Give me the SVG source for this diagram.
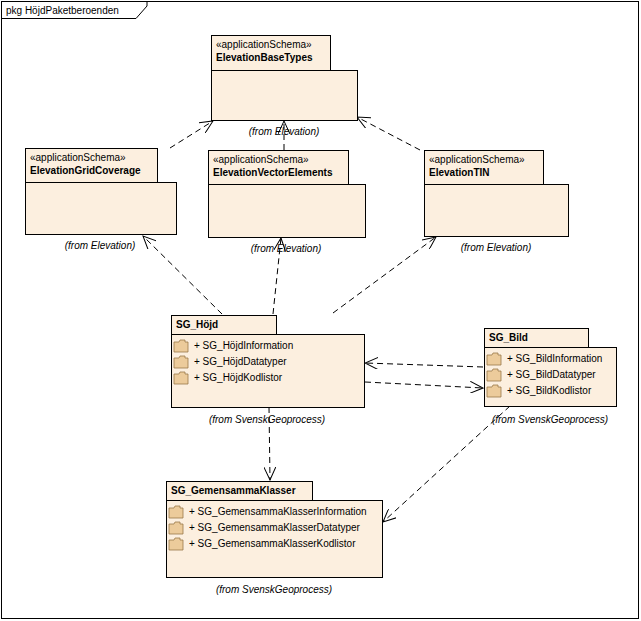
<svg xmlns="http://www.w3.org/2000/svg" width="641" height="621" viewBox="0 0 641 621">
<style>
text{font-family:"Liberation Sans",Arial,sans-serif;font-size:10px;fill:#000}
.b{font-weight:bold}
.i{font-style:italic}
.p{fill:#fcefdf;stroke:#000;stroke-width:1}
.c{fill:none;stroke:#000;stroke-width:1;stroke-dasharray:6,4}
.f{fill:#eccb9b;stroke:#9a7a4a;stroke-width:0.8}
</style>
<defs>
<marker id="a" markerWidth="14" markerHeight="12" refX="13" refY="6" orient="auto" markerUnits="userSpaceOnUse">
<path d="M0,0 L13,6 L0,12" fill="none" stroke="#000"/>
</marker>
<g id="fd"><path class="f" d="M0,2 h5 l1,-2 h5 v2 h3 v10 h-14z"/></g>
</defs>
<rect x="0" y="0" width="641" height="621" fill="#fff"/>
<g id="frame">
<rect x="1.5" y="1.5" width="637" height="617" fill="none" stroke="#000"/>
<path d="M1.5,18.5 H136 L147,6 V1.5" fill="none" stroke="#000"/>
<text x="6" y="14">pkg HöjdPaketberoenden</text>
</g>
<g id="connectors">
<line class="c" x1="170" y1="148" x2="213" y2="121" marker-end="url(#a)"/>
<line class="c" x1="284" y1="150" x2="284" y2="121" marker-end="url(#a)"/>
<line class="c" x1="420" y1="150" x2="357" y2="117" marker-end="url(#a)"/>
<line class="c" x1="222" y1="314" x2="143" y2="236" marker-end="url(#a)"/>
<line class="c" x1="273" y1="314" x2="281" y2="238" marker-end="url(#a)"/>
<line class="c" x1="333" y1="313" x2="436" y2="237" marker-end="url(#a)"/>
<line class="c" x1="483" y1="367" x2="365" y2="363" marker-end="url(#a)"/>
<line class="c" x1="365" y1="382" x2="483" y2="388" marker-end="url(#a)"/>
<line class="c" x1="269" y1="407" x2="270" y2="480" marker-end="url(#a)"/>
<line class="c" x1="510" y1="406" x2="383" y2="522" marker-end="url(#a)"/>
</g>
<g id="ElevationBaseTypes">
<rect class="p" x="211.5" y="35.5" width="119" height="35"/>
<rect class="p" x="211.5" y="70.5" width="146" height="50"/>
<text x="216" y="48">«applicationSchema»</text>
<text class="b" x="216" y="61">ElevationBaseTypes</text>
<text class="i" x="284" y="135" text-anchor="middle">(from Elevation)</text>
</g>
<g id="ElevationGridCoverage">
<rect class="p" x="25.5" y="148.5" width="132" height="34"/>
<rect class="p" x="25.5" y="182.5" width="151" height="52"/>
<text x="30" y="161">«applicationSchema»</text>
<text class="b" x="30" y="174">ElevationGridCoverage</text>
<text class="i" x="100" y="249" text-anchor="middle">(from Elevation)</text>
</g>
<g id="ElevationVectorElements">
<rect class="p" x="208.5" y="150.5" width="140" height="34"/>
<rect class="p" x="208.5" y="184.5" width="157" height="53"/>
<text x="213" y="163">«applicationSchema»</text>
<text class="b" x="213" y="176">ElevationVectorElements</text>
<text class="i" x="286" y="252" text-anchor="middle">(from Elevation)</text>
</g>
<g id="ElevationTIN">
<rect class="p" x="424.5" y="150.5" width="119" height="34"/>
<rect class="p" x="424.5" y="184.5" width="144" height="52"/>
<text x="429" y="163">«applicationSchema»</text>
<text class="b" x="429" y="176">ElevationTIN</text>
<text class="i" x="496" y="251" text-anchor="middle">(from Elevation)</text>
</g>
<g id="SG_Hojd">
<rect class="p" x="171.5" y="315.5" width="105" height="19"/>
<rect class="p" x="171.5" y="334.5" width="193" height="73"/>
<text class="b" x="176" y="328">SG_Höjd</text>
<use href="#fd" x="174" y="340"/><text x="194" y="349">+ SG_HöjdInformation</text>
<use href="#fd" x="174" y="356"/><text x="194" y="365">+ SG_HöjdDatatyper</text>
<use href="#fd" x="174" y="372"/><text x="194" y="381">+ SG_HöjdKodlistor</text>
<text class="i" x="267" y="423" text-anchor="middle">(from SvenskGeoprocess)</text>
</g>
<g id="SG_Bild">
<rect class="p" x="484.5" y="328.5" width="104" height="19"/>
<rect class="p" x="484.5" y="347.5" width="132" height="59"/>
<text class="b" x="489" y="341">SG_Bild</text>
<use href="#fd" x="487" y="353"/><text x="507" y="362">+ SG_BildInformation</text>
<use href="#fd" x="487" y="369"/><text x="507" y="378">+ SG_BildDatatyper</text>
<use href="#fd" x="487" y="385"/><text x="507" y="394">+ SG_BildKodlistor</text>
<text class="i" x="550" y="423" text-anchor="middle">(from SvenskGeoprocess)</text>
</g>
<g id="SG_GemensammaKlasser">
<rect class="p" x="166.5" y="481.5" width="146" height="19"/>
<rect class="p" x="166.5" y="500.5" width="216" height="77"/>
<text class="b" x="171" y="494">SG_GemensammaKlasser</text>
<use href="#fd" x="169" y="506"/><text x="189" y="515">+ SG_GemensammaKlasserInformation</text>
<use href="#fd" x="169" y="522"/><text x="189" y="531">+ SG_GemensammaKlasserDatatyper</text>
<use href="#fd" x="169" y="538"/><text x="189" y="547">+ SG_GemensammaKlasserKodlistor</text>
<text class="i" x="274" y="593" text-anchor="middle">(from SvenskGeoprocess)</text>
</g>
</svg>
